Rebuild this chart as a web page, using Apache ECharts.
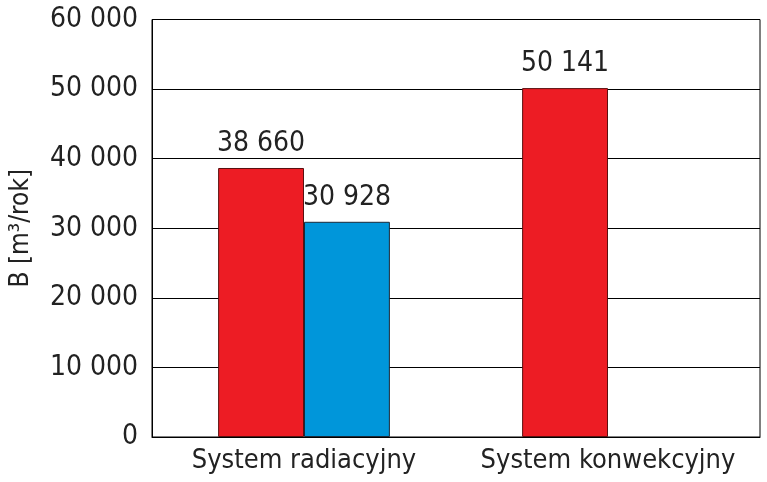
<!DOCTYPE html>
<html>
<head>
<meta charset="utf-8">
<script src="https://cdn.jsdelivr.net/npm/echarts@6/dist/echarts.min.js"></script>
<style>
  html, body { margin: 0; padding: 0; background: #fff; }
  #chart { width: 767px; height: 482px; }
</style>
</head>
<body>
<div id="chart"></div>
<script>
// dane
var categories = ['System radiacyjny', 'System konwekcyjny'];
var redValues = [38660, 50141];
var blueValues = [30928, null];
var yTicks = { min: 0, max: 60000, interval: 10000 };

var fontFam = "'Liberation Sans Narrow', 'DejaVu Sans Condensed', sans-serif";

function spaced(v) {
  return String(v).replace(/\B(?=(\d{3})+(?!\d))/g, ' ');
}

var myChart = echarts.init(document.getElementById('chart'));
var option = {
  animation: false,
  grid: {
    left: 152,
    right: 7,
    top: 19.5,
    bottom: 45,
    outerBoundsMode: 'none',
    containLabel: false,
    show: true,
    borderColor: '#000',
    borderWidth: 1
  },
  xAxis: {
    type: 'category',
    data: categories,
    axisLine: { lineStyle: { color: '#000', width: 1 } },
    axisTick: { show: false },
    axisLabel: {
      interval: 0,
      color: '#222',
      fontFamily: fontFam,
      fontSize: 27,
      margin: 10
    }
  },
  yAxis: {
    type: 'value',
    min: yTicks.min,
    max: yTicks.max,
    interval: yTicks.interval,
    name: 'B [m³/rok]',
    nameLocation: 'middle',
    nameGap: 118,
    nameTextStyle: {
      color: '#222',
      fontFamily: fontFam,
      fontSize: 26
    },
    axisLine: { show: true, lineStyle: { color: '#000', width: 1 } },
    axisTick: { show: false },
    splitLine: { lineStyle: { color: '#000', width: 1 } },
    axisLabel: {
      color: '#222',
      fontFamily: fontFam,
      fontSize: 28,
      margin: 14,
      formatter: spaced
    }
  },
  series: [
    {
      type: 'bar',
      data: redValues,
      barGap: 0,
      barCategoryGap: '43.5%',
      itemStyle: { color: '#ED1C24', borderColor: '#5a1010', borderWidth: 1 },
      label: {
        show: true,
        position: 'top',
        distance: 10,
        color: '#222',
        fontFamily: fontFam,
        fontSize: 28,
        formatter: function (p) { return spaced(p.value); }
      }
    },
    {
      type: 'bar',
      data: blueValues,
      itemStyle: { color: '#0096DA', borderColor: '#1a2a3a', borderWidth: 1 },
      label: {
        show: true,
        position: 'top',
        distance: 10,
        color: '#222',
        fontFamily: fontFam,
        fontSize: 28,
        formatter: function (p) { return spaced(p.value); }
      }
    }
  ]
};
myChart.setOption(option);
window.addEventListener('resize', function () {
  myChart.resize();
});
</script>
</body>
</html>
